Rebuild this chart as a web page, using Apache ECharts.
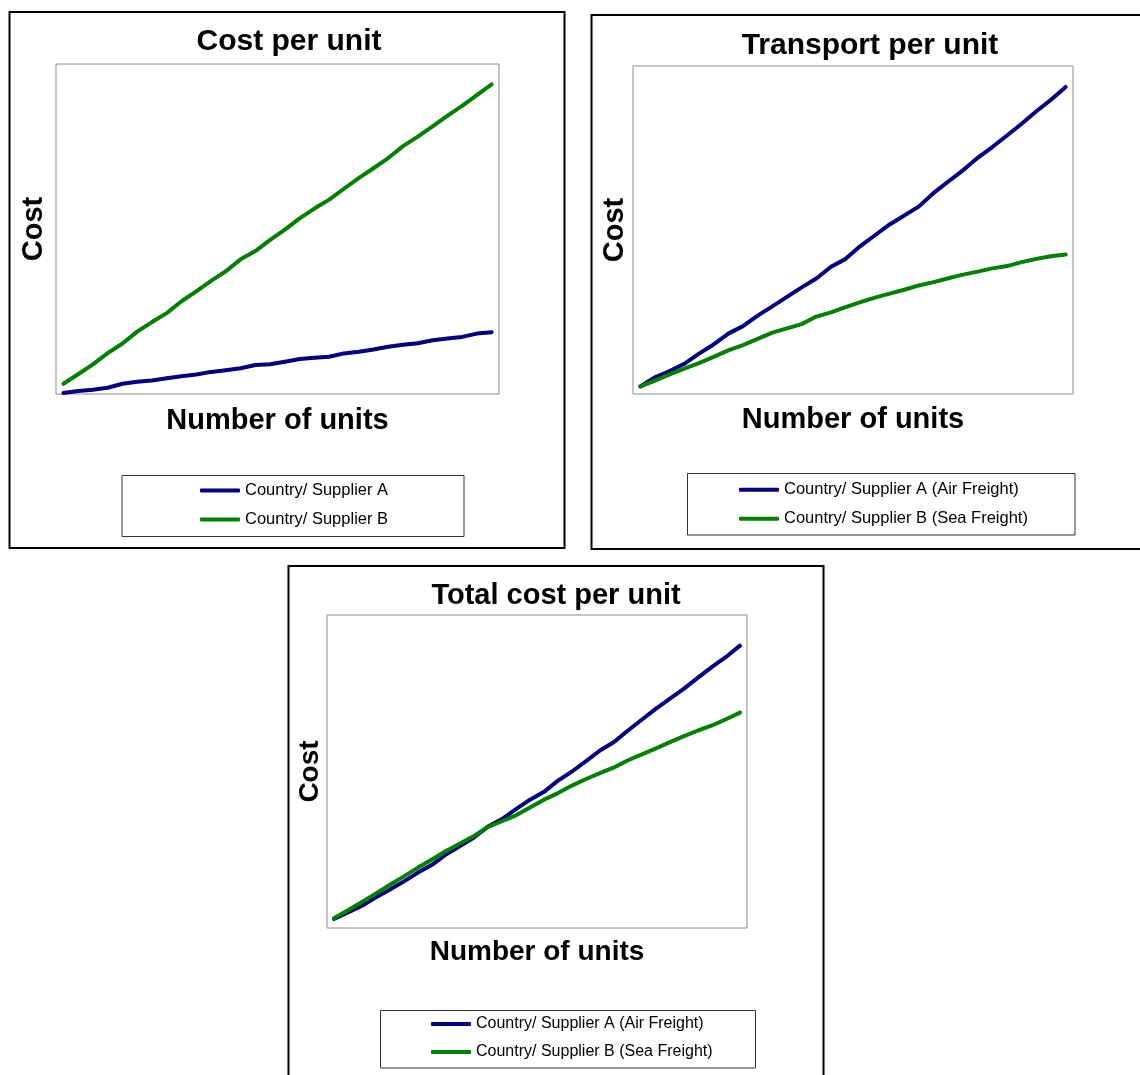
<!DOCTYPE html>
<html>
<head>
<meta charset="utf-8">
<script src="https://cdn.jsdelivr.net/npm/echarts@6/dist/echarts.min.js"></script>
<style>
html,body{margin:0;padding:0;background:#fff;}
#chart{width:1140px;height:1075px;}
</style>
</head>
<body>
<div id="chart"></div>
<script>
// ---- data ----
const units = [1,2,3,4,5,6,7,8,9,10,11,12,13,14,15,16,17,18,19,20,21,22,23,24,25,26,27,28,29,30];

const titles = ['Cost per unit', 'Transport per unit', 'Total cost per unit'];
const xName = 'Number of units';
const yName = 'Cost';

const namesCost = ['Country/ Supplier A', 'Country/ Supplier B'];
const namesFreight = ['Country/ Supplier A (Air Freight)', 'Country/ Supplier B (Sea Freight)'];

const costA = [0.3, 0.9, 1.3, 1.9, 3.1, 3.7, 4.1, 4.8, 5.4, 5.9, 6.7, 7.2, 7.8, 8.8, 9.0, 9.8, 10.6, 11.0, 11.3, 12.3, 12.8, 13.5, 14.3, 14.9, 15.4, 16.3, 16.8, 17.3, 18.3, 18.7];
const costB = [3.1, 6.0, 9.0, 12.4, 15.3, 18.9, 21.8, 24.5, 28.1, 31.1, 34.3, 37.2, 40.8, 43.3, 46.7, 49.8, 53.2, 56.2, 58.9, 62.2, 65.4, 68.4, 71.5, 75.1, 78.0, 81.1, 84.3, 87.3, 90.6, 93.8];

const transportA = [2.3, 5.1, 7.0, 9.2, 12.3, 15.1, 18.4, 20.7, 23.9, 26.7, 29.6, 32.5, 35.2, 38.8, 41.2, 45.1, 48.4, 51.7, 54.4, 57.2, 61.3, 64.8, 68.2, 72.0, 75.3, 78.8, 82.4, 86.2, 89.7, 93.6];
const transportB = [2.3, 4.1, 6.0, 7.7, 9.4, 11.3, 13.3, 14.9, 16.8, 18.7, 20.0, 21.3, 23.6, 24.9, 26.5, 28.0, 29.4, 30.6, 31.8, 33.1, 34.1, 35.3, 36.4, 37.3, 38.3, 39.0, 40.2, 41.2, 42.0, 42.5];

const totalA = [2.9, 5.0, 7.1, 9.8, 12.3, 14.9, 17.7, 20.2, 23.5, 26.2, 28.9, 32.4, 34.8, 38.0, 41.0, 43.5, 47.1, 50.0, 53.3, 56.7, 59.4, 63.1, 66.6, 70.1, 73.3, 76.5, 80.0, 83.4, 86.6, 90.2];
const totalB = [3.1, 5.7, 8.3, 11.0, 13.8, 16.5, 19.3, 21.9, 24.6, 27.0, 29.4, 32.3, 34.1, 36.0, 38.5, 41.0, 43.1, 45.5, 47.6, 49.5, 51.3, 53.6, 55.5, 57.4, 59.4, 61.3, 63.1, 64.7, 66.7, 68.8];

// ---- styling / layout ----
const FONT = '"Liberation Sans", Arial, Helvetica, sans-serif';
const BLUE = '#000080';
const GREEN = '#008000';

const grids = [
  {left: 56, top: 64, width: 443, height: 330},
  {left: 633, top: 66, width: 440, height: 328},
  {left: 327, top: 615, width: 420, height: 313}
];
const xNameGap = [12, 11.5, 10];
const yNameGap = [8, 4, 3];
const axisNameSize = [29, 29, 28];
const titlePos = [{x: 289, y: 27, s: 30}, {x: 870, y: 30.5, s: 30}, {x: 556, y: 581, s: 29}];
const legendPos = [{left: 200, top: 482}, {left: 739, top: 481.3}, {left: 431, top: 1016}];
const legendFont = [16.5, 16.5, 16];

const chart = echarts.init(document.getElementById('chart'));

const xAxes = grids.map((g, i) => ({
  type: 'category', gridIndex: i, data: units, boundaryGap: true,
  axisLine: {show: false}, axisTick: {show: false}, axisLabel: {show: false}, splitLine: {show: false},
  name: xName, nameLocation: 'middle', nameGap: xNameGap[i],
  nameTextStyle: {fontFamily: FONT, fontSize: axisNameSize[i], fontWeight: 'bold', color: '#000', verticalAlign: 'top'}
}));
const yAxes = grids.map((g, i) => ({
  type: 'value', gridIndex: i, min: 0, max: 100,
  axisLine: {show: false}, axisTick: {show: false}, axisLabel: {show: false}, splitLine: {show: false},
  name: yName, nameLocation: 'middle', nameGap: yNameGap[i], nameRotate: 90,
  nameTextStyle: {fontFamily: FONT, fontSize: axisNameSize[i], fontWeight: 'bold', color: '#000', verticalAlign: 'bottom'}
}));

function line(name, data, color, idx) {
  return {
    type: 'line', name: name, data: data, xAxisIndex: idx, yAxisIndex: idx,
    symbol: 'none', smooth: false, silent: true,
    lineStyle: {color: color, width: 4, cap: 'round', join: 'round'},
    itemStyle: {color: color},
    emphasis: {disabled: true}
  };
}

function legendFor(i, names) {
  return Object.assign({
    orient: 'vertical', padding: 0, itemWidth: 40, itemHeight: 4, itemGap: 12,
    icon: 'roundRect', selectedMode: false,
    textStyle: {fontFamily: FONT, fontSize: legendFont[i], lineHeight: 16, color: '#000'},
    data: names
  }, legendPos[i]);
}

const option = {
  backgroundColor: '#fff',
  animation: false,
  title: titles.map((t, i) => ({
    text: t, left: titlePos[i].x, top: titlePos[i].y, textAlign: 'center', padding: 0,
    textStyle: {fontFamily: FONT, fontSize: titlePos[i].s, fontWeight: 'bold', color: '#000'}
  })),
  grid: grids.map(g => Object.assign({show: true, borderColor: '#8c8c8c', borderWidth: 1, backgroundColor: '#fff', containLabel: false}, g)),
  xAxis: xAxes,
  yAxis: yAxes,
  legend: [
    legendFor(0, namesCost),
    legendFor(1, namesFreight),
    legendFor(2, namesFreight)
  ],
  graphic: [
    {type: 'rect', shape: {x: 9.5, y: 12, width: 555, height: 536}, style: {fill: 'none', stroke: '#000', lineWidth: 2}, silent: true, z: -1},
    {type: 'rect', shape: {x: 591.5, y: 15, width: 620, height: 534}, style: {fill: 'none', stroke: '#000', lineWidth: 2}, silent: true, z: -1},
    {type: 'rect', shape: {x: 288.5, y: 566, width: 535, height: 600}, style: {fill: 'none', stroke: '#000', lineWidth: 2}, silent: true, z: -1},
    {type: 'rect', shape: {x: 122, y: 475.5, width: 342, height: 61}, style: {fill: 'none', stroke: '#333', lineWidth: 1}, silent: true},
    {type: 'rect', shape: {x: 687.5, y: 473.5, width: 387.5, height: 61.5}, style: {fill: 'none', stroke: '#333', lineWidth: 1}, silent: true},
    {type: 'rect', shape: {x: 380.5, y: 1010.5, width: 375, height: 57.5}, style: {fill: 'none', stroke: '#333', lineWidth: 1}, silent: true}
  ],
  series: [
    line(namesCost[0], costA, BLUE, 0),
    line(namesCost[1], costB, GREEN, 0),
    line(namesFreight[0], transportA, BLUE, 1),
    line(namesFreight[1], transportB, GREEN, 1),
    line(namesFreight[0], totalA, BLUE, 2),
    line(namesFreight[1], totalB, GREEN, 2)
  ]
};
chart.setOption(option);
</script>
</body>
</html>
